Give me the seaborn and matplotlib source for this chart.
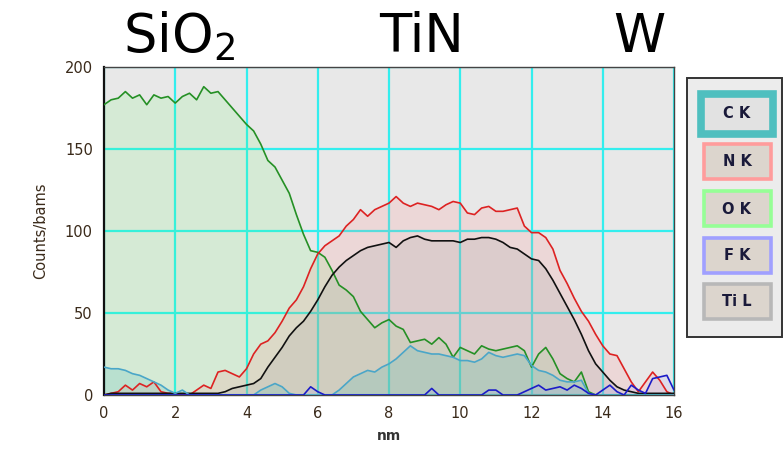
import numpy as np
import pandas as pd
import matplotlib
matplotlib.use("Agg")
import matplotlib.pyplot as plt
from matplotlib.patches import Rectangle
import seaborn as sns

# Depth grid (nm) and EDS line-scan counts per element
depth = np.linspace(0, 16, 81)

c_k = [17, 16, 16, 15, 13, 12, 10, 8, 6, 3,
       1, 3, 0, 0, 0, 0, 0, 0, 0, 0,
       0, 0, 3, 5, 7, 5, 1, 0, 0, 0,
       0, 0, 0, 3, 7, 11, 13, 15, 14, 17,
       19, 22, 26, 30, 27, 26, 25, 25, 24, 23,
       21, 21, 20, 22, 26, 24, 23, 24, 25, 24,
       18, 15, 14, 12, 9, 8, 8, 9, 1, 0,
       0, 0, 0, 0, 0, 0, 0, 0, 0, 0, 0]

n_k = [0, 1, 2, 6, 3, 7, 5, 8, 2, 1,
       1, 0, 0, 3, 6, 4, 14, 15, 13, 11,
       16, 25, 31, 33, 38, 45, 53, 58, 66, 77,
       86, 91, 94, 97, 103, 107, 113, 109, 113, 115,
       117, 121, 117, 115, 117, 116, 115, 113, 116, 118,
       117, 111, 110, 114, 115, 112, 112, 113, 114, 103,
       99, 99, 96, 89, 76, 68, 59, 51, 45, 37,
       30, 25, 24, 16, 8, 2, 8, 14, 9, 2, 0]

o_k = [177, 180, 181, 185, 181, 183, 177, 183, 181, 182,
       178, 182, 184, 180, 188, 184, 185, 180, 175, 170,
       165, 161, 153, 143, 139, 131, 123, 110, 98, 88,
       87, 84, 76, 67, 64, 60, 51, 46, 41, 44,
       46, 42, 40, 32, 33, 34, 31, 35, 31, 23,
       29, 27, 25, 30, 28, 27, 28, 29, 30, 27,
       17, 25, 29, 22, 13, 10, 8, 14, 2, 0,
       0, 0, 0, 0, 0, 0, 0, 0, 0, 0, 0]

f_k = [0, 0, 0, 0, 0, 0, 0, 0, 0, 0,
       0, 0, 0, 0, 0, 0, 0, 0, 0, 0,
       0, 0, 0, 0, 0, 0, 0, 0, 0, 5,
       2, 0, 0, 0, 0, 0, 0, 0, 0, 0,
       0, 0, 0, 0, 0, 0, 4, 0, 0, 0,
       0, 0, 0, 0, 3, 3, 0, 0, 0, 2,
       4, 6, 3, 4, 5, 3, 6, 4, 1, 0,
       3, 6, 2, 0, 6, 3, 1, 10, 11, 12, 3]

ti_l = [0, 1, 1, 1, 1, 1, 1, 1, 1, 1,
        1, 1, 1, 1, 1, 1, 1, 2, 4, 5,
        6, 7, 10, 17, 23, 29, 36, 41, 45, 51,
        58, 66, 73, 78, 82, 85, 88, 90, 91, 92,
        93, 90, 94, 96, 97, 95, 94, 94, 94, 94,
        93, 95, 95, 96, 96, 95, 93, 90, 89, 86,
        83, 82, 77, 70, 62, 54, 46, 37, 27, 19,
        14, 9, 5, 3, 2, 1, 1, 1, 1, 1, 1]

elements = ["C K", "N K", "O K", "F K", "Ti L"]
series = [c_k, n_k, o_k, f_k, ti_l]
line_colors = ["#4aa6c8", "#dd2222", "#259025", "#1c1cc8", "#111111"]
frame_colors = ["#4fbfbf", "#ff9c9c", "#96ff96", "#a0a0ff", "#b8b8b8"]
fill_colors = ["#3fb8b8", "#ff8c8c", "#50ff50", "#9c9cff", "#a0a0a0"]
fill_alpha = [0.18, 0.18, 0.12, 0.15, 0.2]
layers = ["SiO$_2$", "TiN", "W"]
layer_pos = [2.1, 8.9, 15.03]

df = pd.DataFrame({"depth": np.tile(depth, len(elements)),
                   "counts": np.concatenate(series),
                   "element": np.repeat(elements, len(depth))})

sns.set_theme(style="white")
plt.rcParams["font.family"] = ["DejaVu Sans"]

fig = plt.figure(figsize=(7.84, 4.57), dpi=100)
ax = fig.add_axes([104 / 784, 62 / 457, 570 / 784, 328 / 457])
ax.set_facecolor("#e8e8e8")

# filled areas under each profile, green drawn first so the rest sit on it
draw_order = [2, 1, 4, 0, 3]
for i in draw_order:
    ax.fill_between(depth, series[i], 0, color=fill_colors[i],
                    alpha=fill_alpha[i], lw=0, zorder=2)

palette = dict(zip(elements, line_colors))
sns.lineplot(data=df, x="depth", y="counts", hue="element",
             palette=palette, hue_order=[elements[i] for i in draw_order],
             linewidth=1.2, legend=False, ax=ax, zorder=3)

ax.set_xlim(0, 16)
ax.set_ylim(0, 200)
ax.set_xticks(np.arange(0, 17, 2))
ax.set_yticks(np.arange(0, 201, 50))
ax.grid(True, color="#33eeee", linewidth=1.6, zorder=1)
ax.set_axisbelow(True)
for s in ax.spines.values():
    s.set_color("#444444")
    s.set_linewidth(1.0)
ax.spines["left"].set_color("#111111")
ax.spines["left"].set_linewidth(1.6)
ax.tick_params(axis="both", direction="out", length=5, width=1.2,
               colors="#222222", labelsize=10.5, pad=3)
ax.tick_params(axis="both", labelcolor="#3a2a1a")
ax.set_xlabel("nm", fontsize=10, fontweight="bold", color="#333333", labelpad=6)
ax.set_ylabel("Counts/bams", fontsize=10.5, color="#3a2a1a", labelpad=12)

# layer names above the profile
for name, xpos in zip(layers, layer_pos):
    ax.text(xpos, 1.046, name, transform=ax.get_xaxis_transform(),
            ha="center", va="baseline", fontsize=38, color="black")

# element key on the right, laid out in pixel space
ov = fig.add_axes([0, 0, 1, 1], facecolor="none")
ov.set_xlim(0, 784)
ov.set_ylim(457, 0)
ov.axis("off")
ov.add_patch(Rectangle((687, 78), 95, 259, facecolor="#ececec",
                       edgecolor="#333333", lw=1.4))
box_tops = [91, 143, 190, 237, 283]
for k, (name, top) in enumerate(zip(elements, box_tops)):
    if k == 0:
        ov.add_patch(Rectangle((701, top + 3), 72, 40, facecolor="#e2e2e2",
                               edgecolor=frame_colors[k], lw=5.5))
        cy = top + 23
    else:
        ov.add_patch(Rectangle((704, top + 1), 67, 35, facecolor="#dcd5cd",
                               edgecolor=frame_colors[k], lw=2.6))
        cy = top + 19
    ov.text(737, cy, name, ha="center", va="center", fontsize=10.5,
            fontweight="bold", color="#1a1a3a")

fig.savefig("out.png", dpi=100)
